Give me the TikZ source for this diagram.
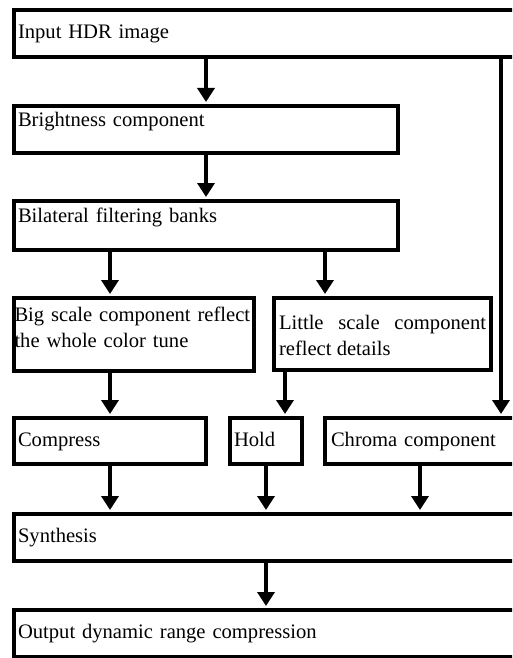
\documentclass[tikz,border=0pt]{standalone}
\usepackage{fontspec}
\setmainfont{Liberation Serif}
\usetikzlibrary{arrows.meta}

\begin{document}
\begin{tikzpicture}[
  x=1pt, y=-1pt,
  box/.style={draw, line width=4pt, anchor=north west, inner xsep=4pt, inner ysep=0pt,
    align=left, font=\fontsize{20.6}{26}\selectfont, text height=15pt, text depth=5pt},
  flow/.style={line width=4pt, shorten >=2pt, -{Triangle[width=17pt,length=14pt]}}
  ]
	\clip[use as bounding box] (0,0) rectangle (512,658);

	\node[box, text width=540pt, minimum height=47.5pt] (in) at (12,8) {Input HDR image};
	\node[box, text width=376pt, minimum height=47pt, text depth=22pt] (bright) at (12,104) {Brightness component};
	\node[box, text width=376pt, minimum height=49pt, text depth=22pt] (bilat) at (12,199) {Bilateral filtering banks};

	\node[box, inner xsep=0.5pt, text width=239pt, minimum height=73pt, text depth=42pt] (big) at (12,296) {\mbox{Big scale component reflect}\\the whole color tune};
	\node[box, inner xsep=5pt, text width=207pt, minimum height=72pt, text depth=25pt, align=justify] (little) at (272,296) {Little scale component reflect details};

	\node[box, text width=184pt, minimum height=46pt] (comp) at (12,416) {Compress};
	\node[box, text width=64pt, minimum height=46pt] (hold) at (228,416) {Hold};
	\node[box, inner xsep=6pt, text width=225pt, minimum height=46pt] (chroma) at (323,416) {Chroma component};

	\node[box, text width=540pt, minimum height=47pt] (synth) at (12,512) {Synthesis};
	\node[box, text width=540pt, minimum height=46.5pt] (out) at (12,608) {Output dynamic range compression};

	\coordinate (split) at (325,0);
	\coordinate (keep) at (285,0);
	\coordinate (join) at (420,0);
	\coordinate (tap) at (501,0);

	\draw[flow] (in.south -| bright.north) -- (bright.north);
	\draw[flow] (bright.south) -- (bilat.north);
	\draw[flow] (bilat.south -| comp.north) -- (big.north -| comp.north);
	\draw[flow] (bilat.south -| split) -- (little.north -| split);
	\draw[flow] (in.south -| tap) -- (chroma.north -| tap);

	\draw[flow] (big.south -| comp.north) -- (comp.north);
	\draw[flow] (little.south -| keep) -- (hold.north -| keep);

	\draw[flow] (comp.south) -- (synth.north -| comp.south);
	\draw[flow] (hold.south) -- (synth.north -| hold.south);
	\draw[flow] (chroma.south -| join) -- (synth.north -| join);
	\draw[flow] (synth.south -| hold.south) -- (out.north -| hold.south);
\end{tikzpicture}
\end{document}
